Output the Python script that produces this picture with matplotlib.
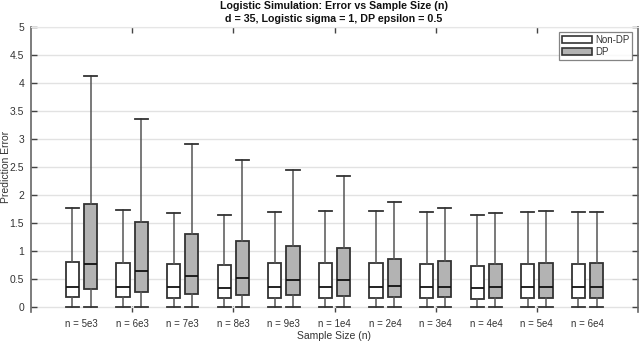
import matplotlib
matplotlib.use("Agg")
import matplotlib.pyplot as plt
from matplotlib.patches import Patch

plt.rcParams['font.family'] = ['Liberation Sans', 'DejaVu Sans']

categories = ["n = 5e3", "n = 6e3", "n = 7e3", "n = 8e3", "n = 9e3", "n = 1e4",
              "n = 2e4", "n = 3e4", "n = 4e4", "n = 5e4", "n = 6e4"]

# Non-DP box statistics
nondp_low = [0.0] * 11
nondp_q1 = [0.17, 0.17, 0.16, 0.16, 0.16, 0.16, 0.16, 0.16, 0.15, 0.16, 0.16]
nondp_med = [0.36, 0.35, 0.35, 0.34, 0.35, 0.35, 0.35, 0.35, 0.34, 0.35, 0.35]
nondp_q3 = [0.81, 0.79, 0.76, 0.75, 0.78, 0.78, 0.78, 0.77, 0.74, 0.77, 0.77]
nondp_high = [1.77, 1.74, 1.68, 1.65, 1.70, 1.72, 1.72, 1.70, 1.65, 1.70, 1.69]

# DP box statistics
dp_low = [0.0] * 11
dp_q1 = [0.33, 0.27, 0.24, 0.22, 0.21, 0.20, 0.17, 0.17, 0.16, 0.16, 0.16]
dp_med = [0.77, 0.64, 0.55, 0.52, 0.48, 0.48, 0.38, 0.36, 0.35, 0.35, 0.35]
dp_q3 = [1.84, 1.51, 1.31, 1.18, 1.09, 1.05, 0.86, 0.82, 0.76, 0.78, 0.78]
dp_high = [4.12, 3.36, 2.91, 2.62, 2.44, 2.34, 1.88, 1.77, 1.68, 1.72, 1.70]

yticks = [0, 0.5, 1, 1.5, 2, 2.5, 3, 3.5, 4, 4.5, 5]
ytick_labels = ["0", "0.5", "1", "1.5", "2", "2.5", "3", "3.5", "4", "4.5", "5"]

fig = plt.figure(figsize=(6.4, 3.44), dpi=100)
ax = fig.add_axes([31/640, (344-311.5)/344, (638-31)/640, (311.5-27)/344])

def stats(low, q1, med, q3, high):
    return [dict(whislo=a, q1=b, med=c, q3=d, whishi=e, fliers=[])
            for a, b, c, d, e in zip(low, q1, med, q3, high)]

pos = list(range(1, len(categories) + 1))
off = 0.18
w = 0.26
edge = '#333333'
for st, shift, fc in [(stats(nondp_low, nondp_q1, nondp_med, nondp_q3, nondp_high), -off, 'white'),
                      (stats(dp_low, dp_q1, dp_med, dp_q3, dp_high), off, '#b3b3b3')]:
    ax.bxp(st, positions=[p + shift for p in pos], widths=w, patch_artist=True,
           showfliers=False,
           boxprops=dict(facecolor=fc, edgecolor=edge, linewidth=1.3),
           medianprops=dict(color='#111111', linewidth=1.3),
           whiskerprops=dict(color='#555555', linewidth=1.1),
           capprops=dict(color='#333333', linewidth=1.3),
           capwidths=w, manage_ticks=False, zorder=3)

ax.set_xlim(0, 12)
ax.set_ylim(-0.08, 5)
ax.set_yticks(yticks)
ax.set_yticklabels(ytick_labels)
ax.set_xticks([2, 4, 6, 8, 10])
ax.set_xticklabels([])
ax.yaxis.grid(True, color='#e2e2e2', linewidth=1.0, zorder=0)
ax.set_axisbelow(True)
ax.tick_params(axis='x', direction='in', top=True, bottom=True, length=4, color='#444444', width=1)
ax.tick_params(axis='y', direction='in', left=True, right=True, length=4, color='#444444', width=1,
               labelsize=7.5, labelcolor='#333333', pad=5)
for s in ['left', 'right']:
    ax.spines[s].set_color('#666666')
    ax.spines[s].set_linewidth(1.2)
ax.spines['top'].set_color('#e6e6e6')
ax.spines['bottom'].set_visible(False)

for p, lab in zip(pos, categories):
    ax.text(p, -0.3, lab, ha='center', va='center', fontsize=7, color='#333333',
            transform=ax.transData)

fig.text(334/640, 1 - 336/344, "Sample Size (n)", ha='center', va='center', fontsize=7.5, color='#333333')
fig.text(6/640, 1 - 167/344, "Prediction Error", ha='center', va='center', rotation=90,
         fontsize=7.5, color='#333333')
fig.text(334/640, 1 - 6/344, "Logistic Simulation: Error vs Sample Size (n)", ha='center', va='center',
         fontsize=7.7, fontweight='bold', color='#111111')
fig.text(334/640, 1 - 19/344, "d = 35, Logistic sigma = 1, DP epsilon = 0.5", ha='center', va='center',
         fontsize=7.7, fontweight='bold', color='#111111')

handles = [Patch(facecolor='white', edgecolor=edge, linewidth=1.2, label='Non-DP'),
           Patch(facecolor='#b3b3b3', edgecolor=edge, linewidth=1.2, label='DP')]
leg = ax.legend(handles=handles, loc='upper right', bbox_to_anchor=(632/640, 1 - 32/344),
                bbox_transform=fig.transFigure, fontsize=7, frameon=True, fancybox=False,
                handlelength=3.1, handleheight=0.85, handletextpad=0.3, labelspacing=0.2,
                borderpad=0.3, borderaxespad=0)
leg.get_frame().set_edgecolor('#666666')
leg.get_frame().set_linewidth(0.9)
for t in leg.get_texts():
    t.set_color('#333333')

fig.savefig("out.png", dpi=100)
